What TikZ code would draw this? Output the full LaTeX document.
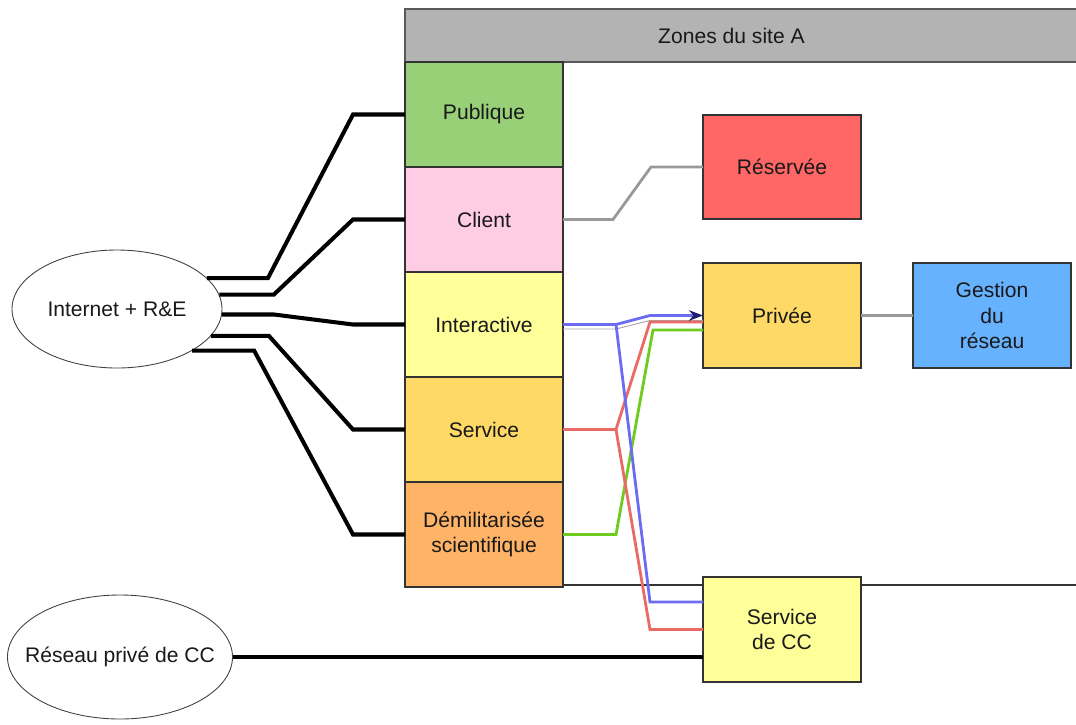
\documentclass[tikz,border=0pt]{standalone}
\usepackage{fontspec}
\setmainfont{Liberation Sans}
\usepackage{xcolor}
\usepackage{tikz}
\usetikzlibrary{calc}
\usetikzlibrary{arrows.meta}
\usetikzlibrary{positioning}
\usetikzlibrary{shapes.geometric}

\definecolor{hdrgray}{HTML}{B3B3B3}
\definecolor{pubgreen}{HTML}{97D077}
\definecolor{clipink}{HTML}{FFCCE6}
\definecolor{lightyel}{HTML}{FFFF99}
\definecolor{servyel}{HTML}{FFD966}
\definecolor{dmzorange}{HTML}{FFB366}
\definecolor{resvred}{HTML}{FF6666}
\definecolor{gestblue}{HTML}{66B2FF}
\definecolor{bluel}{HTML}{6C6CF2}
\definecolor{redl}{HTML}{EA6B66}
\definecolor{greenl}{HTML}{6FCC1F}
\definecolor{arrnavy}{HTML}{1E1E6E}

\begin{document}
\begin{tikzpicture}
    \tikzstyle{every node}=[font=\fontsize{12}{14.6}\selectfont,text=black!90]
    \tikzstyle{zone}=[draw=black!80,line width=0.6pt,minimum width=3.16cm,minimum height=2.1cm,align=center,inner sep=0pt,outer sep=0pt]
    \tikzstyle{cloud}=[ellipse,draw=black!75,line width=0.5pt,inner sep=0pt]
    \tikzstyle{wire}=[line width=2.3pt,draw=black]
    \tikzstyle{flow}=[line width=1.6pt]

    \useasboundingbox (0,0) rectangle (21.52,-14.48);
    \clip (0,0) rectangle (21.52,-14.48);

    % site frame and its header
    \draw[draw=black!80,line width=0.6pt] (8.1,-1.24) rectangle (22,-11.7);
    \draw[draw=black!65,line width=0.6pt,fill=hdrgray] (8.1,-0.18) rectangle (22,-1.24);
    \node (title) at (14.63,-0.72) {Zones du site A};

    \node[zone,fill=pubgreen] (pub) at (9.68,-2.29) {Publique};
    \node[zone,fill=clipink,below=0cm of pub] (client) {Client};
    \node[zone,fill=lightyel,below=0cm of client] (inter) {Interactive};
    \node[zone,fill=servyel,below=0cm of inter] (serv) {Service};
    \node[zone,fill=dmzorange,below=0cm of serv] (dmz) {Démilitarisée\\scientifique};

    \node[zone,fill=resvred,minimum height=2.08cm] (resv) at (15.64,-3.34) {Réservée};
    \node[zone,fill=servyel] (priv) at (15.64,-6.31) {Privée};
    \node[zone,fill=gestblue,right=1.04cm of priv] (gest) {Gestion\\du\\réseau};
    \node[zone,fill=lightyel] (scc) at (15.64,-12.59) {Service\\de CC};

    \node[cloud,minimum width=4.2cm,minimum height=2.36cm] (inet) at (2.34,-6.18) {\makebox[0pt]{Internet + R\&E}};
    \node[cloud,minimum width=4.5cm,minimum height=2.48cm] (ccnet) at (2.4,-13.14) {\makebox[0pt]{Réseau privé de CC}};

    % internet links
    \foreach \ang/\run/\z in {19.4/1.22/pub,8.4/1.09/client,-3.8/1.04/inter,-16.1/1.16/serv,-29.7/1.24/dmz}
      \draw[wire] (inet.\ang) -- ++(\run,0) -- ([xshift=-1.04cm]\z.west) -- (\z.west) ;
    \draw[wire] (ccnet.east) -- (ccnet.east -| scc.west) ;

    % flows between zones
    \draw[flow,draw=black!40] (client.east) -- ++(1.0,0) -- ([xshift=-1.04cm]resv.west) -- (resv.west) ;
    \draw[flow,draw=black!40] (priv.east) -- (gest.west) ;
    \draw[line width=0.5pt,draw=black!35] ([yshift=-0.09cm]inter.east) -- ++(1.06,0) -- ([xshift=-1.06cm,yshift=-0.1cm]priv.west) -- ([yshift=-0.1cm]priv.west) ;
    \draw[flow,draw=greenl] (dmz.east) -- ++(1.06,0) -- ([xshift=-1.0cm,yshift=-0.29cm]priv.west) -- ([yshift=-0.29cm]priv.west) ;
    \draw[flow,draw=redl] (serv.east) -- ++(1.06,0) coordinate (rsplit) -- ([xshift=-1.06cm,yshift=-0.13cm]priv.west) -- ([yshift=-0.13cm]priv.west) ;
    \draw[flow,draw=redl] (rsplit) -- ([xshift=-1.06cm]scc.west) -- (scc.west) ;
    \draw[flow,draw=bluel,-{Stealth[length=8pt,width=6pt,color=arrnavy]}] (inter.east) -- ++(1.06,0) coordinate (bsplit) -- ([xshift=-1.06cm]priv.west) -- (priv.west) ;
    \draw[flow,draw=bluel] (bsplit) -- ([xshift=-1.06cm,yshift=0.55cm]scc.west) -- ([yshift=0.55cm]scc.west) ;

\end{tikzpicture}
\end{document}
